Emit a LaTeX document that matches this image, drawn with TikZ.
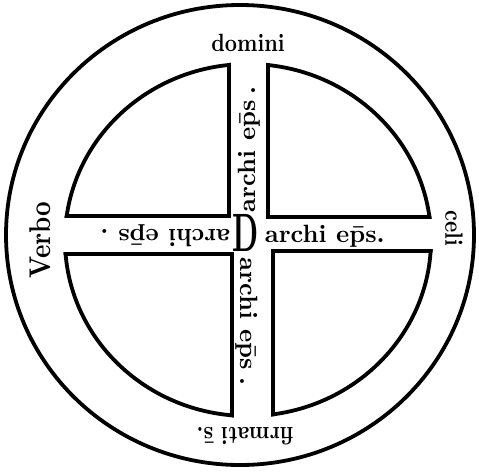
\documentclass[tikz,border=0pt]{standalone}
\usepackage{fontspec}
\newfontfamily\ms{lmroman10}[Extension=.otf, UprightFont=*-regular, BoldFont=*-bold, FakeStretch=0.85]
\newfontfamily\mt{lmroman10}[Extension=.otf, UprightFont=*-regular, BoldFont=*-bold]
\newfontfamily\md{lmroman10}[Extension=.otf, UprightFont=*-bold, FakeStretch=0.55]
\newcommand\quadrantpiece[4]{%
  \begin{scope}
    \clip (#1+#3*-1.9,#2+#4*-1.9) rectangle (#1+#3*300,#2+#4*300);
    \draw (248,240) ellipse [x radius=183pt, y radius=176pt];
    \clip (248,240) ellipse [x radius=184.9pt, y radius=177.9pt];
    \draw[line join=miter] (#1,#2+#4*300) -- (#1,#2) -- (#1+#3*300,#2);
  \end{scope}}
\begin{document}
\begin{tikzpicture}[x=1pt,y=-1pt,line width=3.8pt,
  lbl/.style={font=\fontsize{25}{25}\selectfont\ms\bfseries, inner sep=0pt},
  armtext/.style={font=\fontsize{25}{25}\selectfont\mt\bfseries, inner sep=0pt},
  bigd/.style={font=\fontsize{54}{54}\selectfont\md, inner sep=0pt}]
\useasboundingbox (0,0) rectangle (479,472);
% outer ring
\draw (240,235) ellipse [x radius=234pt, y radius=230pt];
% quadrants
\quadrantpiece{229}{216}{-1}{-1}
\quadrantpiece{268}{217}{1}{-1}
\quadrantpiece{232}{254}{-1}{1}
\quadrantpiece{273}{251}{1}{1}
% outer texts
\node[lbl] (domini) at (248,43) {domini};
\node[lbl, rotate=90, font=\fontsize{30}{30}\selectfont\ms\bfseries] (verbo) at (40,240) {Verbo};
\node[lbl, rotate=-90] (celi) at (454,228) {celi};
\node[lbl, rotate=180] (firmati) at (245,436) {firmati \=s.};
% cross texts
\node[bigd] (D) at (246,233) {D};
\node[armtext, anchor=west] (east) at (263,236) {archi e\=ps.};
\node[armtext, anchor=west, rotate=180] (west) at (232,236) {archi e\=ps\hspace{10pt}.};
\node[armtext, anchor=west, rotate=90] (north) at (249,214) {archi e\=ps\hspace{6pt}.};
\node[armtext, anchor=west, rotate=-90] (south) at (247,256) {archi e\=ps\hspace{8pt}.};
\end{tikzpicture}
\end{document}
